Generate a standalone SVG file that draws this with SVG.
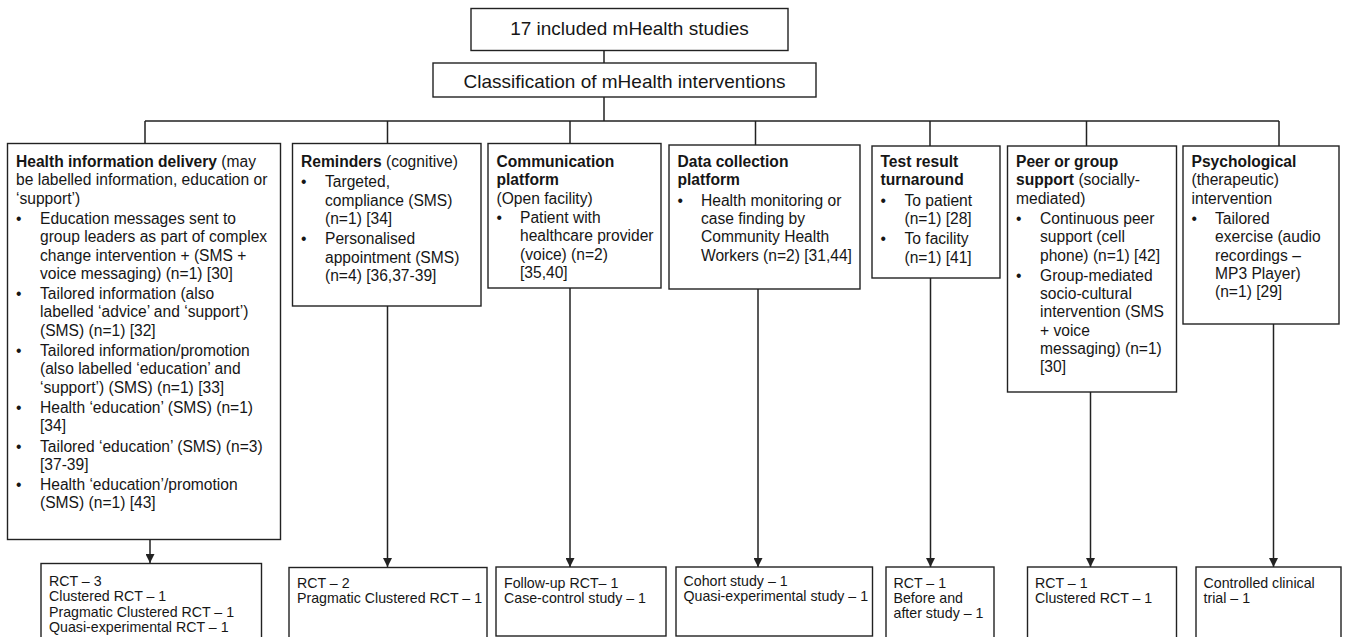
<svg xmlns="http://www.w3.org/2000/svg" width="1346" height="637" viewBox="0 0 1346 637">
<style>
rect.b{fill:#fff;stroke:#222;stroke-width:1.4}
.t{font-family:"Liberation Sans",Arial,sans-serif;font-size:15.6px;fill:#161616}
.h{font-family:"Liberation Sans",Arial,sans-serif;font-size:19px;fill:#161616}
.s{font-family:"Liberation Sans",Arial,sans-serif;font-size:14.2px;fill:#161616}
.bd{font-weight:bold}
.c{fill:none;stroke:#222;stroke-width:1.5}
</style>
<defs>
<marker id="ah" markerUnits="userSpaceOnUse" markerWidth="9" markerHeight="9" refX="9" refY="4.5" orient="auto">
<path d="M0,0 L9,4.5 L0,9 z" fill="#222"/>
</marker>
</defs>
<rect width="1346" height="637" fill="#fff"/>

<g id="connectors">
<path class="c" d="M604,50.5 V63.5 M604,97 V121 M145,121 H1279 M145,121 V143.5 M387.5,121 V143.5 M570,121 V143.5 M755.5,121 V145 M930,121 V146 M1086.5,121 V146 M1279,121 V146"/>
<path class="c" d="M150,539.5 V563" marker-end="url(#ah)"/>
<path class="c" d="M387.5,306 V567" marker-end="url(#ah)"/>
<path class="c" d="M570,288 V567" marker-end="url(#ah)"/>
<path class="c" d="M758,289 V567" marker-end="url(#ah)"/>
<path class="c" d="M930.5,278 V567" marker-end="url(#ah)"/>
<path class="c" d="M1090.5,392 V567" marker-end="url(#ah)"/>
<path class="c" d="M1273.5,324 V567" marker-end="url(#ah)"/>
</g>

<g id="n-studies">
<rect class="b" x="471" y="8.5" width="317" height="42"/>
<text class="h" x="629.5" y="34.5" text-anchor="middle">17 included mHealth studies</text>
</g>
<g id="n-classification">
<rect class="b" x="433" y="63" width="383" height="34"/>
<text class="h" x="624.5" y="87.5" text-anchor="middle">Classification of mHealth interventions</text>
</g>

<g id="n-health-info">
<rect class="b" x="7.5" y="143.5" width="273" height="396"/>
<text class="t">
<tspan x="16" y="167"><tspan class="bd">Health information delivery</tspan> (may</tspan>
<tspan x="16" y="185.3">be labelled information, education or</tspan>
<tspan x="16" y="203.6">‘support’)</tspan>
<tspan x="16" y="223.9">•</tspan><tspan x="40" y="223.9">Education messages sent to</tspan>
<tspan x="40" y="242.2">group leaders as part of complex</tspan>
<tspan x="40" y="260.5">change intervention + (SMS +</tspan>
<tspan x="40" y="278.8">voice messaging) (n=1) [30]</tspan>
<tspan x="16" y="299.1">•</tspan><tspan x="40" y="299.1">Tailored information (also</tspan>
<tspan x="40" y="317.4">labelled ‘advice’ and ‘support’)</tspan>
<tspan x="40" y="335.7">(SMS) (n=1) [32]</tspan>
<tspan x="16" y="356">•</tspan><tspan x="40" y="356">Tailored information/promotion</tspan>
<tspan x="40" y="374.3">(also labelled ‘education’ and</tspan>
<tspan x="40" y="392.6">‘support’) (SMS) (n=1) [33]</tspan>
<tspan x="16" y="412.9">•</tspan><tspan x="40" y="412.9">Health ‘education’ (SMS) (n=1)</tspan>
<tspan x="40" y="431.2">[34]</tspan>
<tspan x="16" y="451.5">•</tspan><tspan x="40" y="451.5">Tailored ‘education’ (SMS) (n=3)</tspan>
<tspan x="40" y="469.8">[37-39]</tspan>
<tspan x="16" y="490.1">•</tspan><tspan x="40" y="490.1">Health ‘education’/promotion</tspan>
<tspan x="40" y="508.4">(SMS) (n=1) [43]</tspan>
</text>
</g>

<g id="n-reminders">
<rect class="b" x="292.5" y="143.5" width="188.5" height="162.5"/>
<text class="t">
<tspan x="301" y="167"><tspan class="bd">Reminders</tspan> (cognitive)</tspan>
<tspan x="301" y="187.3">•</tspan><tspan x="325" y="187.3">Targeted,</tspan>
<tspan x="325" y="205.6">compliance (SMS)</tspan>
<tspan x="325" y="223.9">(n=1) [34]</tspan>
<tspan x="301" y="244.2">•</tspan><tspan x="325" y="244.2">Personalised</tspan>
<tspan x="325" y="262.5">appointment (SMS)</tspan>
<tspan x="325" y="280.8">(n=4) [36,37-39]</tspan>
</text>
</g>

<g id="n-communication">
<rect class="b" x="488" y="143.5" width="173" height="144.5"/>
<text class="t">
<tspan class="bd" x="496.5" y="167">Communication</tspan>
<tspan class="bd" x="496.5" y="185.3">platform</tspan>
<tspan x="496.5" y="203.6">(Open facility)</tspan>
<tspan x="496.5" y="222.9">•</tspan><tspan x="520" y="222.9">Patient with</tspan>
<tspan x="520" y="241.2">healthcare provider</tspan>
<tspan x="520" y="259.5">(voice) (n=2)</tspan>
<tspan x="520" y="277.8">[35,40]</tspan>
</text>
</g>

<g id="n-data-collection">
<rect class="b" x="669" y="145" width="191" height="144"/>
<text class="t">
<tspan class="bd" x="677.5" y="167">Data collection</tspan>
<tspan class="bd" x="677.5" y="185.3">platform</tspan>
<tspan x="677.5" y="205.6">•</tspan><tspan x="701" y="205.6">Health monitoring or</tspan>
<tspan x="701" y="223.9">case finding by</tspan>
<tspan x="701" y="242.2">Community Health</tspan>
<tspan x="701" y="260.5">Workers (n=2) [31,44]</tspan>
</text>
</g>

<g id="n-test-result">
<rect class="b" x="872" y="146" width="128" height="132"/>
<text class="t">
<tspan class="bd" x="880.5" y="167">Test result</tspan>
<tspan class="bd" x="880.5" y="185.3">turnaround</tspan>
<tspan x="880.5" y="205.6">•</tspan><tspan x="904.5" y="205.6">To patient</tspan>
<tspan x="904.5" y="223.9">(n=1) [28]</tspan>
<tspan x="880.5" y="244.2">•</tspan><tspan x="904.5" y="244.2">To facility</tspan>
<tspan x="904.5" y="262.5">(n=1) [41]</tspan>
</text>
</g>

<g id="n-peer-support">
<rect class="b" x="1007.5" y="146" width="169" height="246"/>
<text class="t">
<tspan class="bd" x="1016" y="167">Peer or group</tspan>
<tspan x="1016" y="185.3"><tspan class="bd">support</tspan> (socially-</tspan>
<tspan x="1016" y="203.6">mediated)</tspan>
<tspan x="1016" y="223.9">•</tspan><tspan x="1040" y="223.9">Continuous peer</tspan>
<tspan x="1040" y="242.2">support (cell</tspan>
<tspan x="1040" y="260.5">phone) (n=1) [42]</tspan>
<tspan x="1016" y="280.8">•</tspan><tspan x="1040" y="280.8">Group-mediated</tspan>
<tspan x="1040" y="299.1">socio-cultural</tspan>
<tspan x="1040" y="317.4">intervention (SMS</tspan>
<tspan x="1040" y="335.7">+ voice</tspan>
<tspan x="1040" y="354">messaging) (n=1)</tspan>
<tspan x="1040" y="372.3">[30]</tspan>
</text>
</g>

<g id="n-psychological">
<rect class="b" x="1183" y="146" width="156" height="178"/>
<text class="t">
<tspan class="bd" x="1191.5" y="167">Psychological</tspan>
<tspan x="1191.5" y="185.3">(therapeutic)</tspan>
<tspan x="1191.5" y="203.6">intervention</tspan>
<tspan x="1191.5" y="223.9">•</tspan><tspan x="1215" y="223.9">Tailored</tspan>
<tspan x="1215" y="242.2">exercise (audio</tspan>
<tspan x="1215" y="260.5">recordings –</tspan>
<tspan x="1215" y="278.8">MP3 Player)</tspan>
<tspan x="1215" y="297.1">(n=1) [29]</tspan>
</text>
</g>

<g id="n-design-health-info">
<rect class="b" x="41" y="563.5" width="220.5" height="90"/>
<text class="s">
<tspan x="49" y="586">RCT – 3</tspan>
<tspan x="49" y="601.4">Clustered RCT – 1</tspan>
<tspan x="49" y="616.8">Pragmatic Clustered RCT – 1</tspan>
<tspan x="49" y="632.2">Quasi-experimental RCT – 1</tspan>
</text>
</g>
<g id="n-design-reminders">
<rect class="b" x="289" y="567.5" width="198" height="90"/>
<text class="s">
<tspan x="297" y="588">RCT – 2</tspan>
<tspan x="297" y="603.4">Pragmatic Clustered RCT – 1</tspan>
</text>
</g>
<g id="n-design-communication">
<rect class="b" x="496" y="567" width="170" height="69"/>
<text class="s">
<tspan x="504" y="587.5">Follow-up RCT– 1</tspan>
<tspan x="504" y="602.9">Case-control study – 1</tspan>
</text>
</g>
<g id="n-design-data">
<rect class="b" x="676" y="567" width="196.5" height="69"/>
<text class="s">
<tspan x="683.5" y="586">Cohort study – 1</tspan>
<tspan x="683.5" y="601.4">Quasi-experimental study – 1</tspan>
</text>
</g>
<g id="n-design-test">
<rect class="b" x="886" y="567" width="108" height="90"/>
<text class="s">
<tspan x="893.5" y="587.5">RCT – 1</tspan>
<tspan x="893.5" y="602.9">Before and</tspan>
<tspan x="893.5" y="618.3">after study – 1</tspan>
</text>
</g>
<g id="n-design-peer">
<rect class="b" x="1027.5" y="567" width="149" height="90"/>
<text class="s">
<tspan x="1035" y="587.5">RCT – 1</tspan>
<tspan x="1035" y="602.9">Clustered RCT – 1</tspan>
</text>
</g>
<g id="n-design-psych">
<rect class="b" x="1196" y="567" width="145" height="90"/>
<text class="s">
<tspan x="1203.5" y="587.5">Controlled clinical</tspan>
<tspan x="1203.5" y="602.9">trial – 1</tspan>
</text>
</g>
</svg>
